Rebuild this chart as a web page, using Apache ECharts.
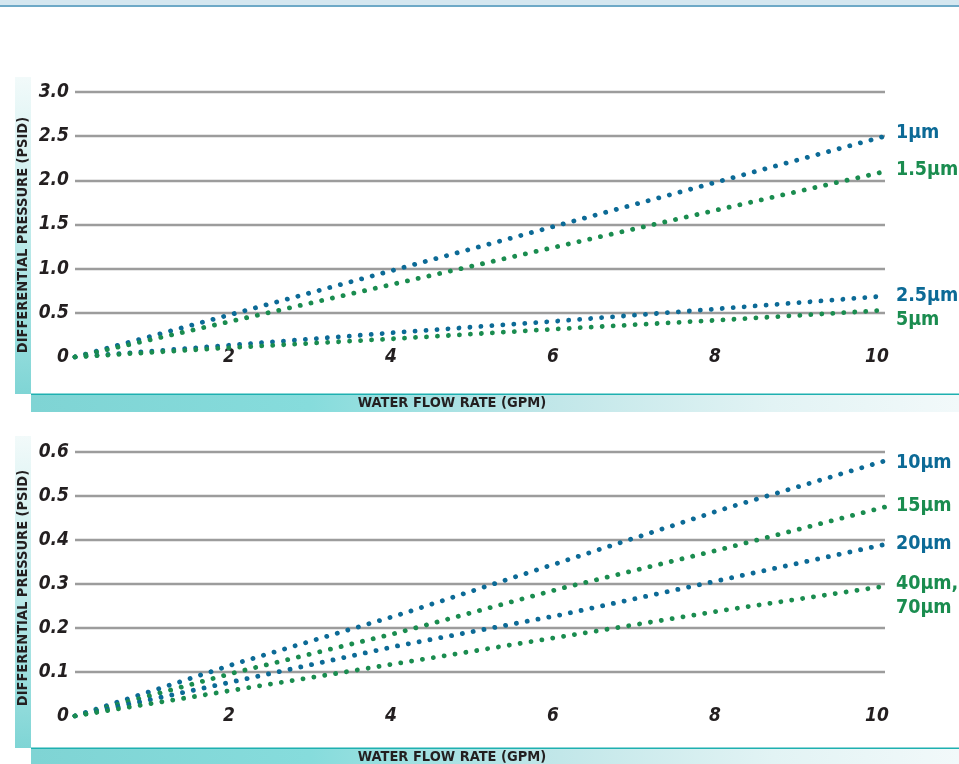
<!DOCTYPE html>
<html>
<head>
<meta charset="utf-8">
<script src="https://cdn.jsdelivr.net/npm/echarts@6/dist/echarts.min.js"></script>
<style>
  html, body { margin: 0; padding: 0; background: #ffffff; }
  #chart { width: 959px; height: 764px; }
</style>
</head>
<body>
<div id="chart"></div>
<script>
// ---- data ----
const flowRate = [0, 2, 4, 6, 8, 10];               // GPM
const topYTicks = [0, 0.5, 1.0, 1.5, 2.0, 2.5, 3.0];  // PSID
const bottomYTicks = [0, 0.1, 0.2, 0.3, 0.4, 0.5, 0.6];

const topSeriesNames = ['1µm', '1.5µm', '2.5µm', '5µm'];
const p1um   = [0, 0.50, 1.00, 1.50, 2.00, 2.50];
const p15um  = [0, 0.42, 0.84, 1.26, 1.68, 2.10];
const p25um  = [0, 0.14, 0.28, 0.41, 0.55, 0.69];
const p5um   = [0, 0.11, 0.21, 0.32, 0.42, 0.53];

const bottomSeriesNames = ['10µm', '15µm', '20µm', '40µm,\n70µm'];
const p10um  = [0, 0.12, 0.23, 0.35, 0.47, 0.58];
const p15umB = [0, 0.10, 0.19, 0.29, 0.38, 0.475];
const p20um  = [0, 0.08, 0.16, 0.23, 0.31, 0.39];
const p40um  = [0, 0.06, 0.12, 0.18, 0.24, 0.295];

const yAxisTitle = 'DIFFERENTIAL PRESSURE (PSID)';
const xAxisTitle = 'WATER FLOW RATE (GPM)';

// ---- styles ----
const BLUE = '#0c6a96';
const GREEN = '#1a8c4f';
const FONT = "'DejaVu Sans Condensed', 'Liberation Sans Narrow', 'Roboto Condensed', 'DejaVu Sans', sans-serif";
const GRID_GRAY = '#9c9c9c';

function pairs(xs, ys) { return xs.map((x, i) => [x, ys[i]]); }

function dotted(name, color, ys, gridIdx, labelOffsetY) {
  return {
    type: 'line',
    name: name,
    xAxisIndex: gridIdx,
    yAxisIndex: gridIdx,
    data: pairs(flowRate, ys),
    showSymbol: false,
    symbol: 'none',
    lineStyle: { color: color, width: 4.8, type: [0.1, 10.9], cap: 'round' },
    endLabel: {
      show: true,
      formatter: name,
      color: color,
      fontFamily: FONT,
      fontWeight: 'bold',
      fontSize: 19.5,
      lineHeight: 24,
      distance: 11,
      offset: [0, labelOffsetY || 0]
    },
    emphasis: { disabled: true },
    z: 3
  };
}

function xAxisFor(gridIdx) {
  return {
    type: 'value', gridIndex: gridIdx, min: 0, max: 10, interval: 2,
    axisLine: { show: false }, axisTick: { show: false }, splitLine: { show: false },
    axisLabel: {
      showMinLabel: false,
      margin: 0,
      verticalAlign: 'middle',
      padding: [0, 16, 0, 0],
      fontFamily: FONT, fontWeight: 'bold', fontStyle: 'italic', fontSize: 19, color: '#231f20'
    }
  };
}

function yAxisFor(gridIdx, max, interval, ticks) {
  const colors = ticks.map((t, i) => i === 0 ? 'rgba(0,0,0,0)' : GRID_GRAY);
  return {
    type: 'value', gridIndex: gridIdx, min: 0, max: max, interval: interval,
    axisLine: { show: false }, axisTick: { show: false },
    splitLine: { show: true, lineStyle: { color: colors, width: 2.4 } },
    axisLabel: {
      margin: 6,
      formatter: v => (v === 0 ? '0' : v.toFixed(1)),
      fontFamily: FONT, fontWeight: 'bold', fontStyle: 'italic', fontSize: 19, color: '#231f20'
    }
  };
}

const vGrad = new echarts.graphic.LinearGradient(0, 0, 0, 1, [
  { offset: 0, color: '#f2fafa' },
  { offset: 0.45, color: '#c4ecec' },
  { offset: 1, color: '#7fd5d5' }
]);
const hGrad = new echarts.graphic.LinearGradient(0, 0, 1, 0, [
  { offset: 0, color: '#7fd4d4' },
  { offset: 0.3, color: '#86dcdc' },
  { offset: 0.55, color: '#bfe6e8' },
  { offset: 0.8, color: '#e2f3f4' },
  { offset: 1, color: '#f2f9fa' }
]);

function decor(top, bottom, textY, nameCenterY) {
  return [
    { type: 'rect', left: 15, top: top, shape: { width: 16, height: bottom - top }, style: { fill: vGrad }, silent: true, z: 0 },
    { type: 'rect', left: 31, top: bottom, shape: { width: 928, height: 18 }, style: { fill: hGrad }, silent: true, z: 0 },
    { type: 'rect', left: 31, top: bottom - 0.5, shape: { width: 928, height: 1.5 }, style: { fill: '#1eb0b0' }, silent: true, z: 1 },
    { type: 'text', x: 452, y: textY, style: { text: xAxisTitle, fill: '#231f20', font: "bold 14.5px " + FONT, align: 'center', verticalAlign: 'top' }, silent: true, z: 2 },
    { type: 'text', x: 23, y: nameCenterY, rotation: Math.PI / 2,
      style: { text: yAxisTitle, fill: '#231f20', font: "bold 14.5px " + FONT, align: 'center', verticalAlign: 'middle' },
      silent: true, z: 2 }
  ];
}

const option = {
  animation: false,
  backgroundColor: '#ffffff',
  graphic: [
    { type: 'rect', left: 0, top: 0, shape: { width: 959, height: 5 }, style: { fill: '#d5e7f0' }, silent: true },
    { type: 'rect', left: 0, top: 5, shape: { width: 959, height: 2 }, style: { fill: '#6ea9c7' }, silent: true },
    ...decor(77, 394, 396, 235),
    ...decor(436, 748, 750, 588)
  ],
  grid: [
    { left: 75, right: 74, top: 92, height: 265, containLabel: false },
    { left: 75, right: 74, top: 452, height: 264, containLabel: false }
  ],
  xAxis: [xAxisFor(0), xAxisFor(1)],
  yAxis: [
    yAxisFor(0, 3.0, 0.5, topYTicks),
    yAxisFor(1, 0.6, 0.1, bottomYTicks)
  ],
  series: [
    dotted(topSeriesNames[0], BLUE, p1um, 0, -3),
    dotted(topSeriesNames[1], GREEN, p15um, 0, -2),
    dotted(topSeriesNames[2], BLUE, p25um, 0, 0),
    dotted(topSeriesNames[3], GREEN, p5um, 0, 10),
    dotted(bottomSeriesNames[0], BLUE, p10um, 1, 2),
    dotted(bottomSeriesNames[1], GREEN, p15umB, 1, -1),
    dotted(bottomSeriesNames[2], BLUE, p20um, 1, 0),
    dotted(bottomSeriesNames[3], GREEN, p40um, 1, 10)
  ]
};

const chart = echarts.init(document.getElementById('chart'), null, { renderer: 'canvas' });
chart.setOption(option);
</script>
</body>
</html>
